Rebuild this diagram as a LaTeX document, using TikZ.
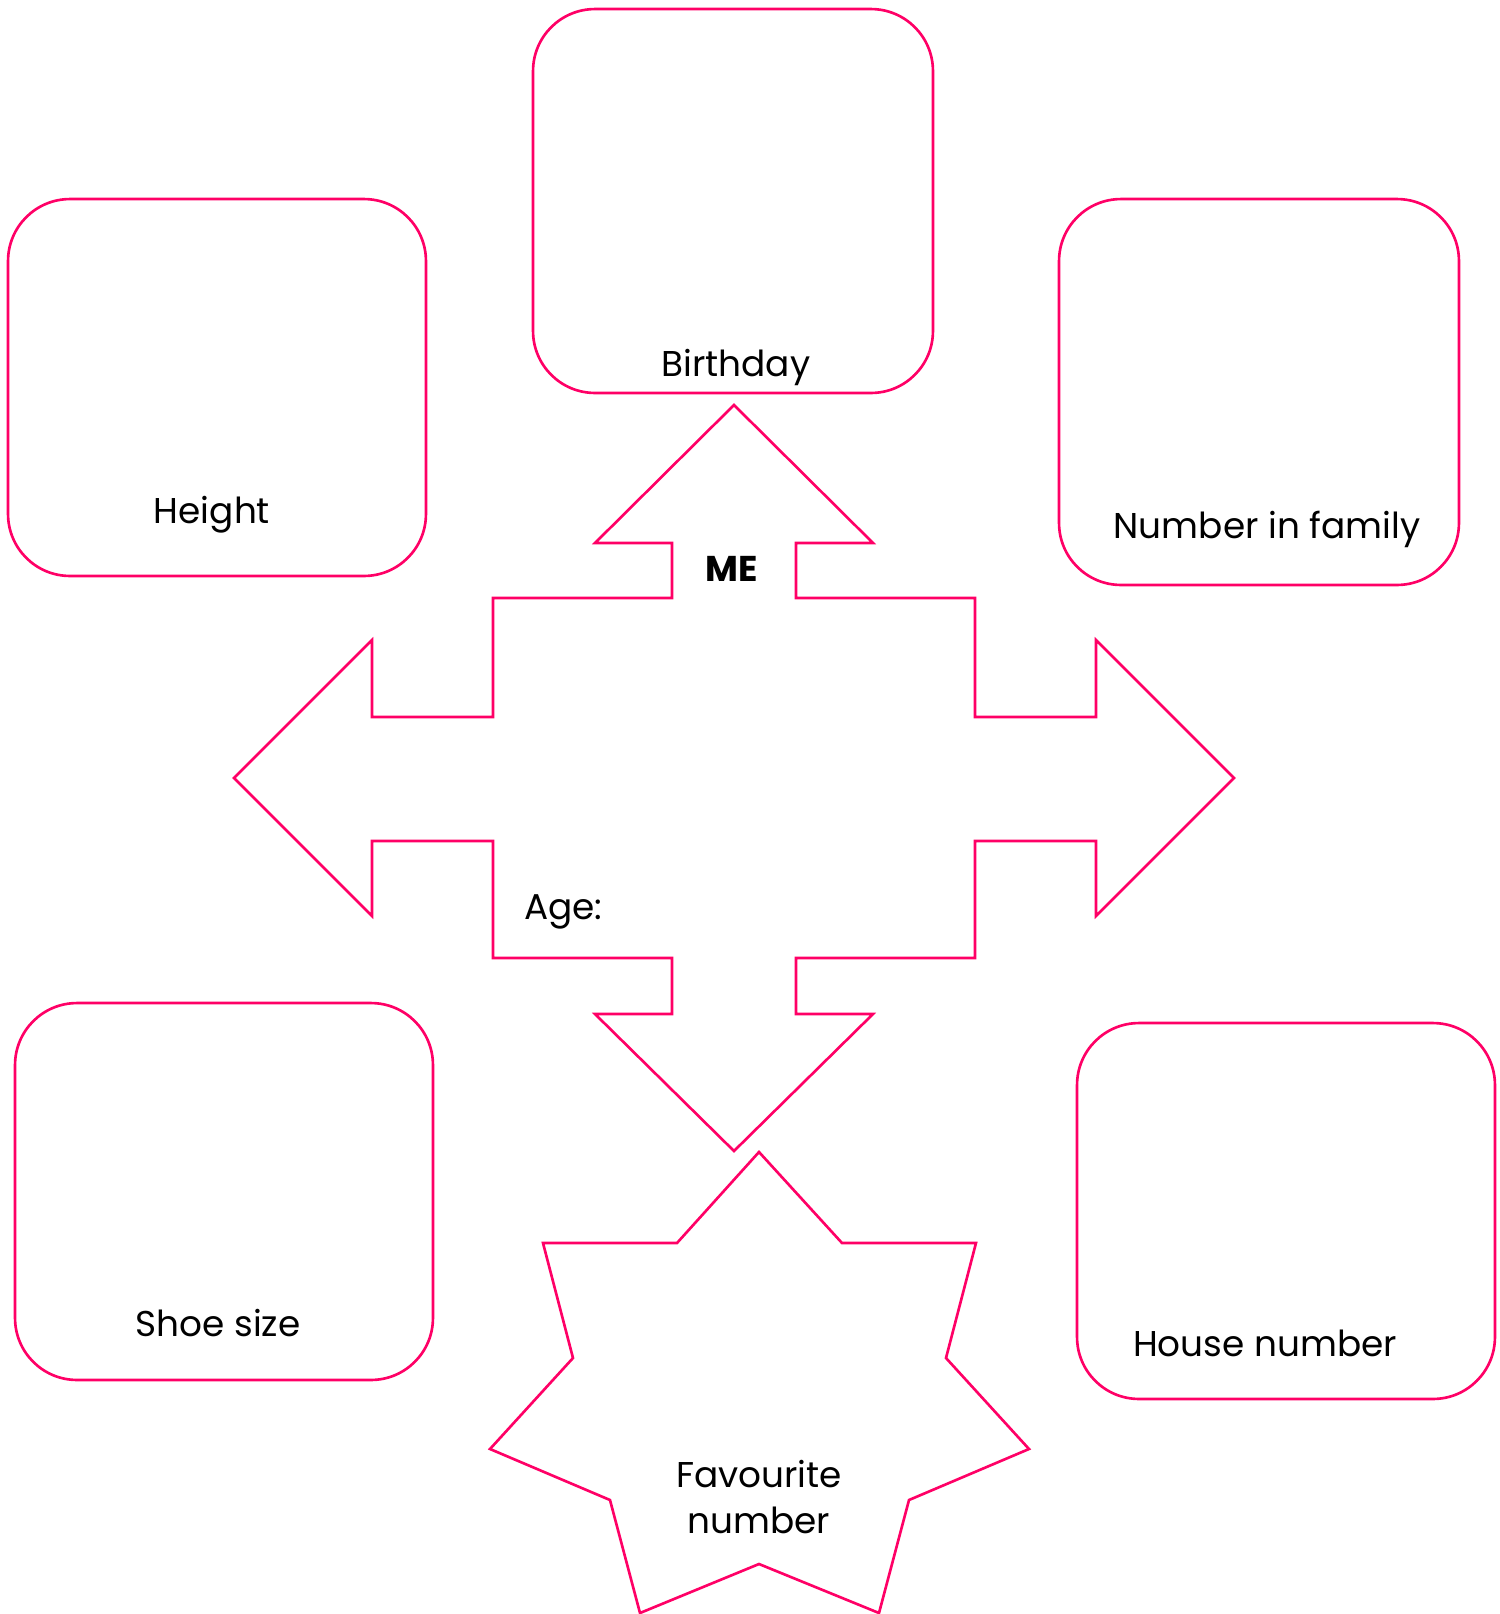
\documentclass[tikz,border=0pt]{standalone}
\usepackage{fontspec}
\setmainfont{Poppins}
\usetikzlibrary{positioning}
\definecolor{mepink}{HTML}{FF0066}

\begin{document}
\begin{tikzpicture}[
    x=0.02cm, y=-0.02cm,
    every node/.style={font=\fontsize{20.4}{26}\selectfont},
    card/.style    ={draw=mepink, line width=1.5pt, rounded corners=1.24cm,
                     inner sep=0pt},
    caption/.style ={anchor=base, inner sep=0pt},
    outline/.style ={draw=mepink, line width=1.5pt, line join=miter},
]
\useasboundingbox (0,0) rectangle (1499,1614);

% the five boxes
\node[card, minimum width=8.36cm, minimum height=7.54cm] (height)   at (217,387.5)  {};
\node[card, minimum width=8.00cm, minimum height=7.68cm] (birthday) at (733,201)    {};
\node[card, minimum width=8.00cm, minimum height=7.72cm] (family)   at (1259,392)   {};
\node[card, minimum width=8.36cm, minimum height=7.54cm] (shoe)     at (224,1191.5) {};
\node[card, minimum width=8.36cm, minimum height=7.52cm] (house)    at (1286,1211)  {};

\node[caption] (heightlbl)   at (212,523)  {Height};
\node[caption] (birthdaylbl) at (736,376)  {Birthday};
\node[caption] (familylbl)   at (1267,538) {Number in family};
\node[caption] (shoelbl)     at (218,1336) {Shoe size};
\node[caption] (houselbl)    at (1265,1356) {House number};

% four-way arrow
\draw[outline] (734,405) -- (873,543) -- (796,543) -- (796,598) -- (975,598)
   -- (975,717) -- (1096,717) -- (1096,640) -- (1234,778) -- (1096,916)
   -- (1096,841) -- (975,841) -- (975,958) -- (796,958) -- (796,1014)
   -- (873,1014) -- (734,1151) -- (595,1014) -- (672,1014) -- (672,958)
   -- (493,958) -- (493,841) -- (372,841) -- (372,916) -- (234,778)
   -- (372,640) -- (372,717) -- (493,717) -- (493,598) -- (672,598)
   -- (672,543) -- (595,543) -- cycle;
\node[caption, font=\fontsize{20.4}{26}\selectfont\bfseries] (me) at (732,581) {ME};
\node[caption, anchor=base west] (age) at (524,919) {Age:};

% star
\draw[outline] (759,1152) -- (842,1243) -- (976,1243) -- (946,1358)
   -- (1029,1449) -- (909,1500) -- (879,1613) -- (759,1564) -- (640,1613)
   -- (610,1500) -- (490,1449) -- (573,1358) -- (543,1243) -- (677,1243)
   -- cycle;
\node[inner sep=0pt, anchor=north, align=center] (favourite) at (759,1460)
   {Favourite\\number};
\end{tikzpicture}
\end{document}
